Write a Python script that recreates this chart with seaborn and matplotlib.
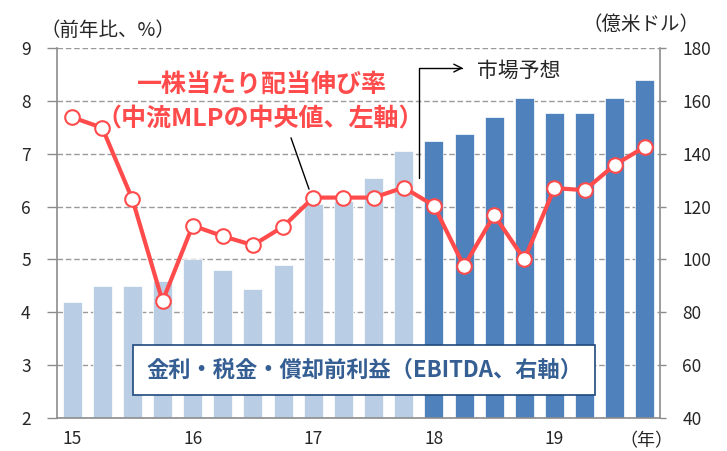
import numpy as np
import pandas as pd
import seaborn as sns
import matplotlib.pyplot as plt

# quarters 2015Q1 .. 2019Q4
quarters = [f"{y}Q{q}" for y in range(15, 20) for q in range(1, 5)]
ebitda = [84, 90, 90, 92, 100, 96, 88.7, 98, 121, 122, 130.7, 141,
          145, 147.5, 154, 161, 155.5, 155.5, 161, 168]
dps_growth = [7.69, 7.49, 6.14, 4.21, 5.64, 5.44, 5.27, 5.62, 6.17, 6.17, 6.17, 6.36,
              6.02, 4.87, 5.84, 5.00, 6.35, 6.31, 6.79, 7.13]
n_actual = 12
year_labels = ["15", "16", "17", "18", "19"]

light = "#B9CDE5"
dark = "#4F81BD"
red = "#FF4B4B"
gray = "#8C8C8C"

sns.set_style("white")
plt.rcParams['font.family'] = ['Noto Sans CJK JP', 'DejaVu Sans']

df = pd.DataFrame({"q": quarters, "ebitda": ebitda, "dps": dps_growth,
                   "pos": np.arange(len(quarters))})
palette = {q: (light if i < n_actual else dark) for i, q in enumerate(quarters)}

fig = plt.figure(figsize=(7.27, 4.51), dpi=100)
ax = fig.add_axes([57 / 727, 1 - 418 / 451, 603 / 727, 370 / 451])
ax2 = ax.twinx()

sns.barplot(data=df, x="q", y="ebitda", hue="q", palette=palette, legend=False,
            width=0.63, ax=ax2, edgecolor="white", linewidth=0.5, saturation=1)
ax2.set_ylim(40, 180)
ax2.set_yticks(range(40, 181, 20))
ax2.yaxis.grid(True, linestyle=(0, (4, 2)), color="#9A9A9A", linewidth=1)
ax2.set_axisbelow(True)
ax2.set_ylabel("")
ax2.set_xlabel("")

ax.set_zorder(ax2.get_zorder() + 1)
ax.patch.set_visible(False)
sns.lineplot(data=df, x="pos", y="dps", ax=ax, color=red, linewidth=3,
             marker="o", markersize=10.5, markerfacecolor="white",
             markeredgecolor=red, markeredgewidth=1.5)
ax.set_ylim(2, 9)
ax.set_yticks(range(2, 10))
ax.set_xlim(-0.5, len(quarters) - 0.5)
ax.set_xlabel("")
ax.set_ylabel("")

# x ticks: labels under Q1, marks at year boundaries
ax.set_xticks(np.arange(0, 20, 4), year_labels)
ax.set_xticks(np.arange(-0.5, 20, 4), minor=True)
ax.tick_params(axis="x", which="major", length=0, pad=9, labelsize=12.5)
ax.tick_params(axis="x", which="minor", length=4, width=1, color=gray, direction="out")
ax.tick_params(axis="y", length=7, width=1, color=gray, direction="out", pad=12,
               labelsize=12.5)
ax2.tick_params(axis="y", length=4, width=1, color=gray, direction="out", pad=12,
                labelsize=12.5, right=True)

for s in ["top", "right"]:
    ax.spines[s].set_visible(False)
for s in ["top", "left", "bottom"]:
    ax2.spines[s].set_visible(False)
for s in ["left", "bottom"]:
    ax.spines[s].set_color(gray)
    ax.spines[s].set_linewidth(1.2)
ax2.spines["right"].set_color(gray)
ax2.spines["right"].set_linewidth(1.2)

# axis unit labels
fig.text(40 / 727, 1 - 30 / 451, "（前年比、%）", fontsize=14, ha="left", va="center")
fig.text(699 / 727, 1 - 24 / 451, "（億米ドル）", fontsize=14, ha="right", va="center")
fig.text(646 / 727, 1 - 441 / 451, "（年）", fontsize=13, ha="center", va="center")

# line title
ax.text(6.27, 8.30, "一株当たり配当伸び率", color=red, fontsize=18,
        fontweight="bold", ha="center", va="center")
ax.text(6.25, 7.64, "（中流MLPの中央値、左軸）", color=red, fontsize=18,
        fontweight="bold", ha="center", va="center")
ax.annotate("", xy=(7.89, 6.28), xytext=(7.23, 7.35),
            arrowprops=dict(arrowstyle="-", color="black", lw=1))

# forecast marker
ax.annotate("", xy=(12.97, 8.62), xytext=(11.5, 6.54),
            arrowprops=dict(arrowstyle="->", color="black", lw=1,
                            connectionstyle="angle,angleA=90,angleB=0,rad=0",
                            shrinkA=0, shrinkB=0, mutation_scale=14))
ax.text(13.43, 8.57, "市場予想", fontsize=15, ha="left", va="center")

# bar legend box
fig.text(364 / 727, 1 - 370 / 451, "金利・税金・償却前利益（EBITDA、右軸）",
         fontsize=16, fontweight="bold", color="#355E93", ha="center", va="center",
         bbox=dict(boxstyle="square,pad=0.6", fc="white", ec="#1F497D", lw=1.2))

fig.savefig("out.png", dpi=100)
